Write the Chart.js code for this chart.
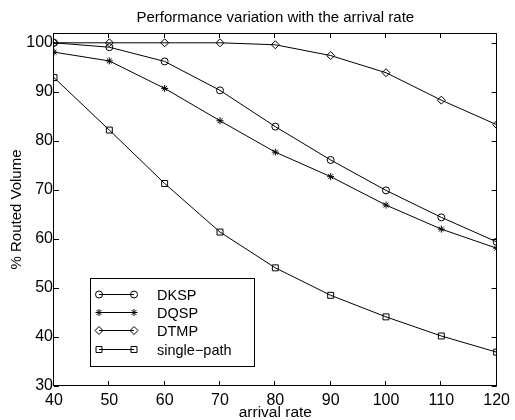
<!DOCTYPE html>
<html>
<head>
<meta charset="utf-8">
<script src="https://cdn.jsdelivr.net/npm/chart.js@4/dist/chart.umd.min.js"></script>
<style>
  html, body { margin: 0; padding: 0; background: #fff; }
  #wrap { width: 515px; height: 420px; }
</style>
</head>
<body>
<div id="wrap"><canvas id="perfChart" width="515" height="420"></canvas></div>
<script>
// arrival rate values on the x axis
const arrivalRates = [40, 50, 60, 70, 80, 90, 100, 110, 120];

// % routed volume for each algorithm
const dkspValues = [100, 99.1, 96.2, 90.3, 82.9, 76.1, 69.9, 64.4, 59.4];
const dqspValues = [98.1, 96.3, 90.7, 84.1, 77.7, 72.7, 66.9, 62.0, 58.1];
const dtmpValues = [100, 100, 100, 100, 99.6, 97.4, 93.9, 88.3, 83.3];
const singlePathValues = [92.9, 82.2, 71.3, 61.4, 54.1, 48.5, 44.1, 40.2, 36.9];

const seriesNames = ['DKSP', 'DQSP', 'DTMP', 'single\u2212path'];
const xTickValues = [40, 50, 60, 70, 80, 90, 100, 110, 120];
const yTickValues = [30, 40, 50, 60, 70, 80, 90, 100];

const FONT = '"Liberation Sans", Arial, Helvetica, sans-serif';

function toPoints(values) {
    return arrivalRates.map((x, i) => ({ x: x, y: values[i] }));
}

function makeSet(label, values, style, radius) {
    return {
        label: label,
        data: toPoints(values),
        borderColor: '#000',
        backgroundColor: 'rgba(0,0,0,0)',
        borderWidth: 1,
        pointStyle: style,
        pointRadius: radius,
        pointBorderColor: '#000',
        pointBackgroundColor: 'rgba(0,0,0,0)',
        pointBorderWidth: 1,
        tension: 0
    };
}

// box round the plot with ticks pointing inward, matlab style
const boxPlugin = {
    id: 'boxTicks',
    afterDatasetsDraw(chart) {
        const ctx = chart.ctx;
        const a = chart.chartArea;
        const xs = chart.scales.x;
        const ys = chart.scales.y;
        ctx.save();
        ctx.strokeStyle = '#000';
        ctx.lineWidth = 1;
        ctx.strokeRect(Math.round(a.left) - 0.5, Math.round(a.top) + 0.5,
            Math.round(a.right - a.left), Math.round(a.bottom - a.top) - 1);
        ctx.beginPath();
        xTickValues.forEach(v => {
            const px = Math.round(xs.getPixelForValue(v)) - 0.5;
            ctx.moveTo(px, a.bottom); ctx.lineTo(px, a.bottom - 5);
            ctx.moveTo(px, a.top); ctx.lineTo(px, a.top + 5);
        });
        yTickValues.forEach(v => {
            const py = Math.round(ys.getPixelForValue(v)) + 0.5;
            ctx.moveTo(a.left, py); ctx.lineTo(a.left + 5, py);
            ctx.moveTo(a.right, py); ctx.lineTo(a.right - 5, py);
        });
        ctx.stroke();
        ctx.restore();
    }
};

// legend box inside the plot, lower left
const legendBoxPlugin = {
    id: 'legendBox',
    afterDraw(chart) {
        const ctx = chart.ctx;
        const bx = 90, by = 278, bw = 164, bh = 88;
        ctx.save();
        ctx.fillStyle = '#fff';
        ctx.fillRect(bx, by, bw, bh);
        ctx.strokeStyle = '#000';
        ctx.lineWidth = 1;
        ctx.strokeRect(bx + 0.5, by + 0.5, bw, bh);
        chart.data.datasets.forEach((ds, i) => {
            const y = Math.round(by + 16 + i * 18.2) + 0.5;
            ctx.strokeStyle = '#000';
            ctx.beginPath();
            ctx.moveTo(99, y);
            ctx.lineTo(134, y);
            ctx.stroke();
            ctx.fillStyle = 'rgba(0,0,0,0)';
            [99, 134].forEach(px => {
                Chart.helpers.drawPoint(ctx, {
                    pointStyle: ds.pointStyle,
                    radius: ds.pointRadius,
                    rotation: 0,
                    borderWidth: 1
                }, px, y);
            });
            ctx.fillStyle = '#000';
            ctx.font = '14.5px ' + FONT;
            ctx.textBaseline = 'middle';
            ctx.textAlign = 'left';
            ctx.fillText(ds.label, 157, y + 1);
        });
        ctx.restore();
    }
};

const ctx = document.getElementById('perfChart').getContext('2d');
const perfChart = new Chart(ctx, {
    type: 'line',
    data: {
        datasets: [
            makeSet(seriesNames[0], dkspValues, 'circle', 3.5),
            makeSet(seriesNames[1], dqspValues, 'star', 3.5),
            makeSet(seriesNames[2], dtmpValues, 'rectRot', 4),
            makeSet(seriesNames[3], singlePathValues, 'rect', 4.2)
        ]
    },
    options: {
        responsive: false,
        animation: false,
        layout: { padding: { left: 0, right: 14, top: 0, bottom: 0 } },
        plugins: {
            legend: { display: false },
            tooltip: { enabled: false },
            title: { display: false }
        },
        scales: {
            // top axis only carries the title so it is centred over the plot
            top: {
                type: 'linear',
                position: 'top',
                min: 40,
                max: 120,
                grid: { display: false, drawTicks: false },
                border: { display: false },
                ticks: { display: false },
                afterFit: s => { s.height = 33; },
                title: {
                    display: true,
                    text: 'Performance variation with the arrival rate',
                    color: '#000',
                    padding: { top: 10.5, bottom: 0 },
                    font: { family: FONT, size: 15, lineHeight: 1 }
                }
            },
            x: {
                type: 'linear',
                position: 'bottom',
                min: 40,
                max: 120,
                grid: { display: false, drawTicks: false },
                border: { display: false },
                afterBuildTicks: s => { s.ticks = xTickValues.map(v => ({ value: v })); },
                afterFit: s => { s.height = 34; },
                ticks: {
                    color: '#000',
                    padding: 5,
                    maxRotation: 0,
                    font: { family: FONT, size: 16, lineHeight: 1.2 }
                },
                title: {
                    display: true,
                    text: 'arrival rate',
                    color: '#000',
                    padding: { top: 0, bottom: 0 },
                    font: { family: FONT, size: 15.5, lineHeight: 1 }
                }
            },
            y: {
                type: 'linear',
                min: 30,
                max: 102,
                grid: { display: false, drawTicks: false },
                border: { display: false },
                afterBuildTicks: s => { s.ticks = yTickValues.map(v => ({ value: v })); },
                afterFit: s => { s.width = 54; },
                ticks: {
                    color: '#000',
                    padding: 1,
                    font: { family: FONT, size: 16 }
                },
                title: {
                    display: true,
                    text: '% Routed Volume',
                    color: '#000',
                    padding: { top: 9, bottom: 0 },
                    font: { family: FONT, size: 15, lineHeight: 1 }
                }
            }
        }
    },
    plugins: [boxPlugin, legendBoxPlugin]
});
</script>
</body>
</html>
